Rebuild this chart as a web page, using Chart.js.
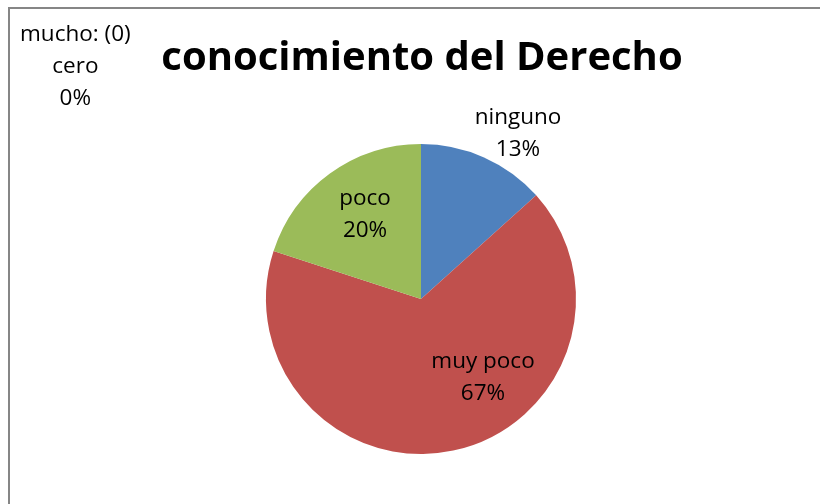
<!DOCTYPE html>
<html>
<head>
<meta charset="utf-8">
<script src="https://cdn.jsdelivr.net/npm/chart.js@4/dist/chart.umd.min.js"></script>
<style>
  html, body { margin: 0; padding: 0; background: #fff; }
  #wrap { position: relative; width: 820px; height: 504px; overflow: hidden; }
  #frame { position: absolute; left: 8px; top: 7px; width: 830px; height: 520px;
           border-left: 2px solid #868686; border-top: 2px solid #868686; }
  canvas { position: absolute; left: 0; top: 0; }
</style>
</head>
<body>
<div id="wrap">
  <div id="frame"></div>
  <canvas id="myChart" width="820" height="504"></canvas>
</div>
<script>
// conocimiento del Derecho (15 respuestas)
var categories = ['ninguno', 'muy poco', 'poco', 'mucho: (0) cero'];
var counts = [2, 10, 3, 0];
var percentLabels = ['13%', '67%', '20%', '0%'];
var colors = ['#4F81BD', '#C0504D', '#9BBB59', '#8064A2'];

// where each label sits, relative to the pie centre, in pie radii
var labelOffsets = [[0.626, -1.065], [0.40, 0.51], [-0.361, -0.542], [-2.23, -1.50]];

var labelPlugin = {
    id: 'pieLabels',
    afterDraw: function (chart) {
        var ctx = chart.ctx;
        var arc = chart.getDatasetMeta(0).data[0];
        var cx = arc.x, cy = arc.y, r = arc.outerRadius;
        ctx.save();
        ctx.fillStyle = '#000';
        ctx.textAlign = 'center';
        ctx.textBaseline = 'middle';

        ctx.font = 'bold 40px "Open Sans"';
        ctx.fillText('conocimiento del Derecho', cx + 1, 59);

        ctx.font = '22.5px "Open Sans"';
        categories.forEach(function (name, i) {
            var lines = name.indexOf(': ') > 0 ? [name.split(' cero')[0], 'cero'] : [name];
            lines.push(percentLabels[i]);
            var x = cx + labelOffsets[i][0] * r;
            var y = cy + labelOffsets[i][1] * r - (lines.length - 1) * 16;
            lines.forEach(function (t, k) {
                ctx.fillText(t, x, y + k * 32);
            });
        });
        ctx.restore();
    }
};

document.addEventListener('DOMContentLoaded', function () {
    var ctx = document.getElementById('myChart').getContext('2d');
    var myChart = new Chart(ctx, {
        type: 'pie',
        data: {
            labels: categories,
            datasets: [{
                data: counts,
                backgroundColor: colors,
                borderWidth: 0
            }]
        },
        options: {
            responsive: false,
            animation: false,
            layout: {
                padding: { left: 266, right: 244, top: 144, bottom: 50 }
            },
            plugins: {
                legend: { display: false },
                tooltip: { enabled: false }
            }
        },
        plugins: [labelPlugin]
    });
});
</script>
</body>
</html>
